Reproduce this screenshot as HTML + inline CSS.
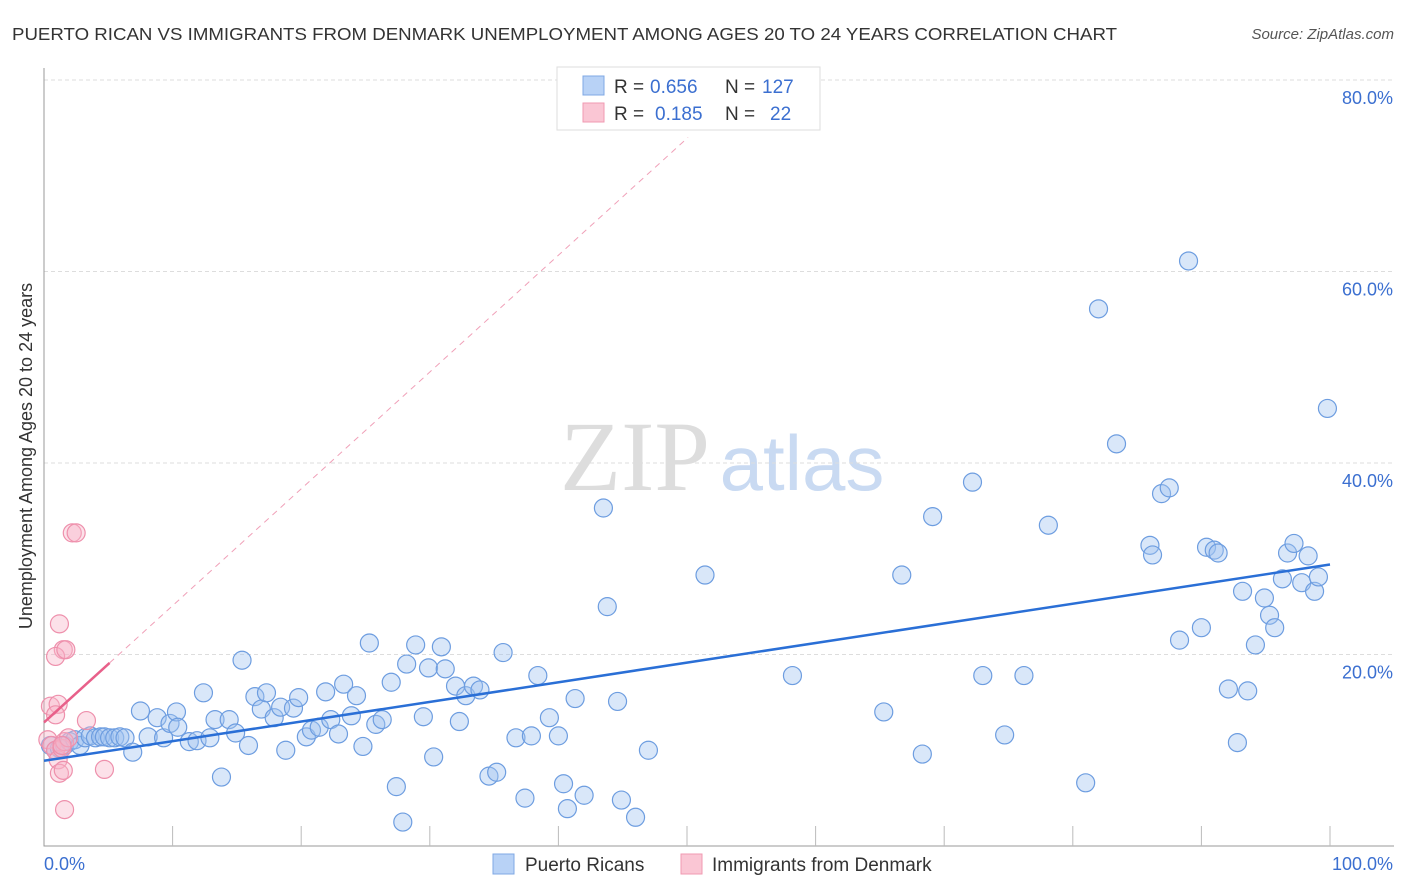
<!DOCTYPE html>
<html><head><meta charset="utf-8"><style>
body{margin:0;background:#fff;font-family:"Liberation Sans",sans-serif}
svg{display:block}
</style></head><body>
<svg id="chart" width="1406" height="892" xmlns="http://www.w3.org/2000/svg">
<text x="12" y="40" font-size="17.5" fill="#333" textLength="1105" lengthAdjust="spacingAndGlyphs">PUERTO RICAN VS IMMIGRANTS FROM DENMARK UNEMPLOYMENT AMONG AGES 20 TO 24 YEARS CORRELATION CHART</text>
<text x="1394" y="39" font-size="15" fill="#555" font-style="italic" text-anchor="end">Source: ZipAtlas.com</text>
<text x="32" y="456" font-size="18" fill="#333" text-anchor="middle" transform="rotate(-90 32 456)">Unemployment Among Ages 20 to 24 years</text>
<g>
<text x="635" y="490" font-size="100" fill="#ddd" font-family="Liberation Serif,serif" text-anchor="middle">ZIP</text>
<text x="802" y="490" font-size="78" fill="#c9daf2" text-anchor="middle">atlas</text>
</g>
<g id="grid"></g><g id="axes"></g><g id="marks"></g>
<g font-size="19">
<rect x="557" y="67" width="263" height="63" fill="#fff" stroke="#ddd"/>
<rect x="583" y="76" width="21" height="19" fill="#b8d2f6" stroke="#7fa8e4"/>
<rect x="583" y="103" width="21" height="19" fill="#fac6d4" stroke="#f09ab2"/>
<text x="614" y="93" fill="#333">R =</text><text x="650" y="93" fill="#3b6fd0">0.656</text>
<text x="725" y="93" fill="#333">N =</text><text x="762" y="93" fill="#3b6fd0">127</text>
<text x="614" y="120" fill="#333">R =</text><text x="655" y="120" fill="#3b6fd0">0.185</text>
<text x="725" y="120" fill="#333">N =</text><text x="770" y="120" fill="#3b6fd0">22</text>
</g>
<g>
<rect x="493" y="854" width="21" height="20" fill="#b8d2f6" stroke="#7fa8e4"/>
<text x="525" y="871" font-size="19" fill="#333">Puerto Ricans</text>
<rect x="681" y="854" width="21" height="20" fill="#fac6d4" stroke="#f09ab2"/>
<text x="712" y="871" font-size="19" fill="#333">Immigrants from Denmark</text>
</g>
</svg>
<script>
const blueX=[0.5,0.9,1.2,1.6,2.0,2.4,2.8,3.2,3.6,4.0,4.4,4.7,5.1,5.5,5.9,6.3,6.9,7.5,8.1,8.8,9.3,9.8,10.3,10.4,11.3,11.9,12.4,12.9,13.3,13.8,14.4,14.9,15.4,15.9,16.4,16.9,17.3,17.9,18.4,18.8,19.4,19.8,20.4,20.8,21.4,21.9,22.3,22.9,23.3,23.9,24.3,24.8,25.3,25.8,26.3,27.0,27.4,27.9,28.2,28.9,29.5,29.9,30.3,30.9,31.2,32.0,32.3,32.8,33.4,33.9,34.6,35.2,35.7,36.7,37.4,37.9,38.4,39.3,40.0,40.4,40.7,41.3,42.0,43.5,43.8,44.6,44.9,46.0,47.0,51.4,58.2,65.3,66.7,68.3,69.1,72.2,73.0,74.7,76.2,78.1,81.0,82.0,83.4,86.0,86.2,86.9,87.5,88.3,89.0,90.0,90.4,91.0,91.3,92.1,92.8,93.2,93.6,94.2,94.9,95.3,95.7,96.3,96.7,97.2,97.8,98.3,98.8,99.1,99.8];
const blueY=[10.5,10.0,10.2,10.5,10.9,11.1,10.5,11.3,11.5,11.3,11.4,11.4,11.3,11.3,11.4,11.3,9.8,14.1,11.4,13.4,11.3,12.8,14.0,12.4,10.9,11.0,16.0,11.3,13.2,7.2,13.2,11.8,19.4,10.5,15.6,14.3,16.0,13.4,14.5,10.0,14.4,15.5,11.4,12.1,12.4,16.1,13.2,11.7,16.9,13.6,15.7,10.4,21.2,12.7,13.2,17.1,6.2,2.5,19.0,21.0,13.5,18.6,9.3,20.8,18.5,16.7,13.0,15.7,16.7,16.3,7.3,7.7,20.2,11.3,5.0,11.5,17.8,13.4,11.5,6.5,3.9,15.4,5.3,35.3,25.0,15.1,4.8,3.0,10.0,28.3,17.8,14.0,28.3,9.6,34.4,38.0,17.8,11.6,17.8,33.5,6.6,56.1,42.0,31.4,30.4,36.8,37.4,21.5,61.1,22.8,31.2,30.9,30.6,16.4,10.8,26.6,16.2,21.0,25.9,24.1,22.8,27.9,30.6,31.6,27.5,30.3,26.6,28.1,45.7];
const pinkX=[0.3,0.6,0.9,1.1,1.4,1.6,1.2,1.5,1.6,2.2,2.5,1.2,1.5,0.9,1.7,0.5,1.1,0.9,3.3,4.7,1.9,1.4];
const pinkY=[11.1,10.5,10.0,9.0,10.2,10.9,7.6,7.9,3.8,32.7,32.7,23.2,20.5,19.8,20.5,14.6,14.8,13.7,13.1,8.0,11.3,10.5];
const blueTrend=[8.9,29.4]; // y at x=0 and x=100
const pinkTrend=[12.9,1.22]; // intercept, slope
const yTicks=[20,40,60,80];
const xTickLabels=["0.0%","100.0%"];
const NS="http://www.w3.org/2000/svg";
const sx=v=>44+v*12.86, sy=v=>846-v*9.575;
function mk(t,a,p){const e=document.createElementNS(NS,t);for(const k in a)e.setAttribute(k,a[k]);p.appendChild(e);return e;}
const grid=document.getElementById('grid'),axes=document.getElementById('axes'),marks=document.getElementById('marks');
yTicks.forEach(t=>{
 const l=mk('line',{x1:44,x2:1394,y1:sy(t),y2:sy(t),stroke:'#ddd','stroke-dasharray':'4 3'},grid);
 
 
 const tx=mk('text',{x:1393,y:sy(t)+24,'font-size':18,fill:'#3b6fd0','text-anchor':'end'},axes);
 tx.textContent=t.toFixed(1)+'%';
 
 
});
const ax=mk('path',{d:'M44 68V846H1394',stroke:'#999',fill:'none'},axes);


for(let i=1;i<=10;i++){const tk=mk('line',{x1:sx(i*10),x2:sx(i*10),y1:826,y2:846,stroke:'#bbb'},axes);
 
 }
const xl0=mk('text',{x:44,y:870,'font-size':18,fill:'#3b6fd0'},axes);xl0.textContent=xTickLabels[0];


const xl1=mk('text',{x:1393,y:870,'font-size':18,fill:'#3b6fd0','text-anchor':'end'},axes);xl1.textContent=xTickLabels[1];


const yEnd=74;
const xEnd=(yEnd-pinkTrend[0])/pinkTrend[1];
const pd=mk('line',{x1:sx(5.1),y1:sy(pinkTrend[0]+pinkTrend[1]*5.1),x2:sx(xEnd),y2:sy(yEnd),stroke:'#f0a0b8','stroke-dasharray':'6 5','stroke-width':1},marks);


blueX.forEach((x,i)=>{const c=mk('circle',{cx:sx(x),cy:sy(blueY[i]),r:9,fill:'rgba(160,196,240,0.4)',stroke:'#6d9de0','stroke-width':1.2},marks);
 
 });
pinkX.forEach((x,i)=>{const c=mk('circle',{cx:sx(x),cy:sy(pinkY[i]),r:9,fill:'rgba(248,180,200,0.4)',stroke:'#ee90ac','stroke-width':1.2},marks);
 
 });
const bl=mk('line',{x1:sx(0),y1:sy(blueTrend[0]),x2:sx(100),y2:sy(blueTrend[1]),stroke:'#2a6fd6','stroke-width':2.5},marks);


const pl=mk('line',{x1:sx(0),y1:sy(pinkTrend[0]),x2:sx(5.1),y2:sy(pinkTrend[0]+pinkTrend[1]*5.1),stroke:'#e8608a','stroke-width':2.5},marks);


</script>
</body></html>
